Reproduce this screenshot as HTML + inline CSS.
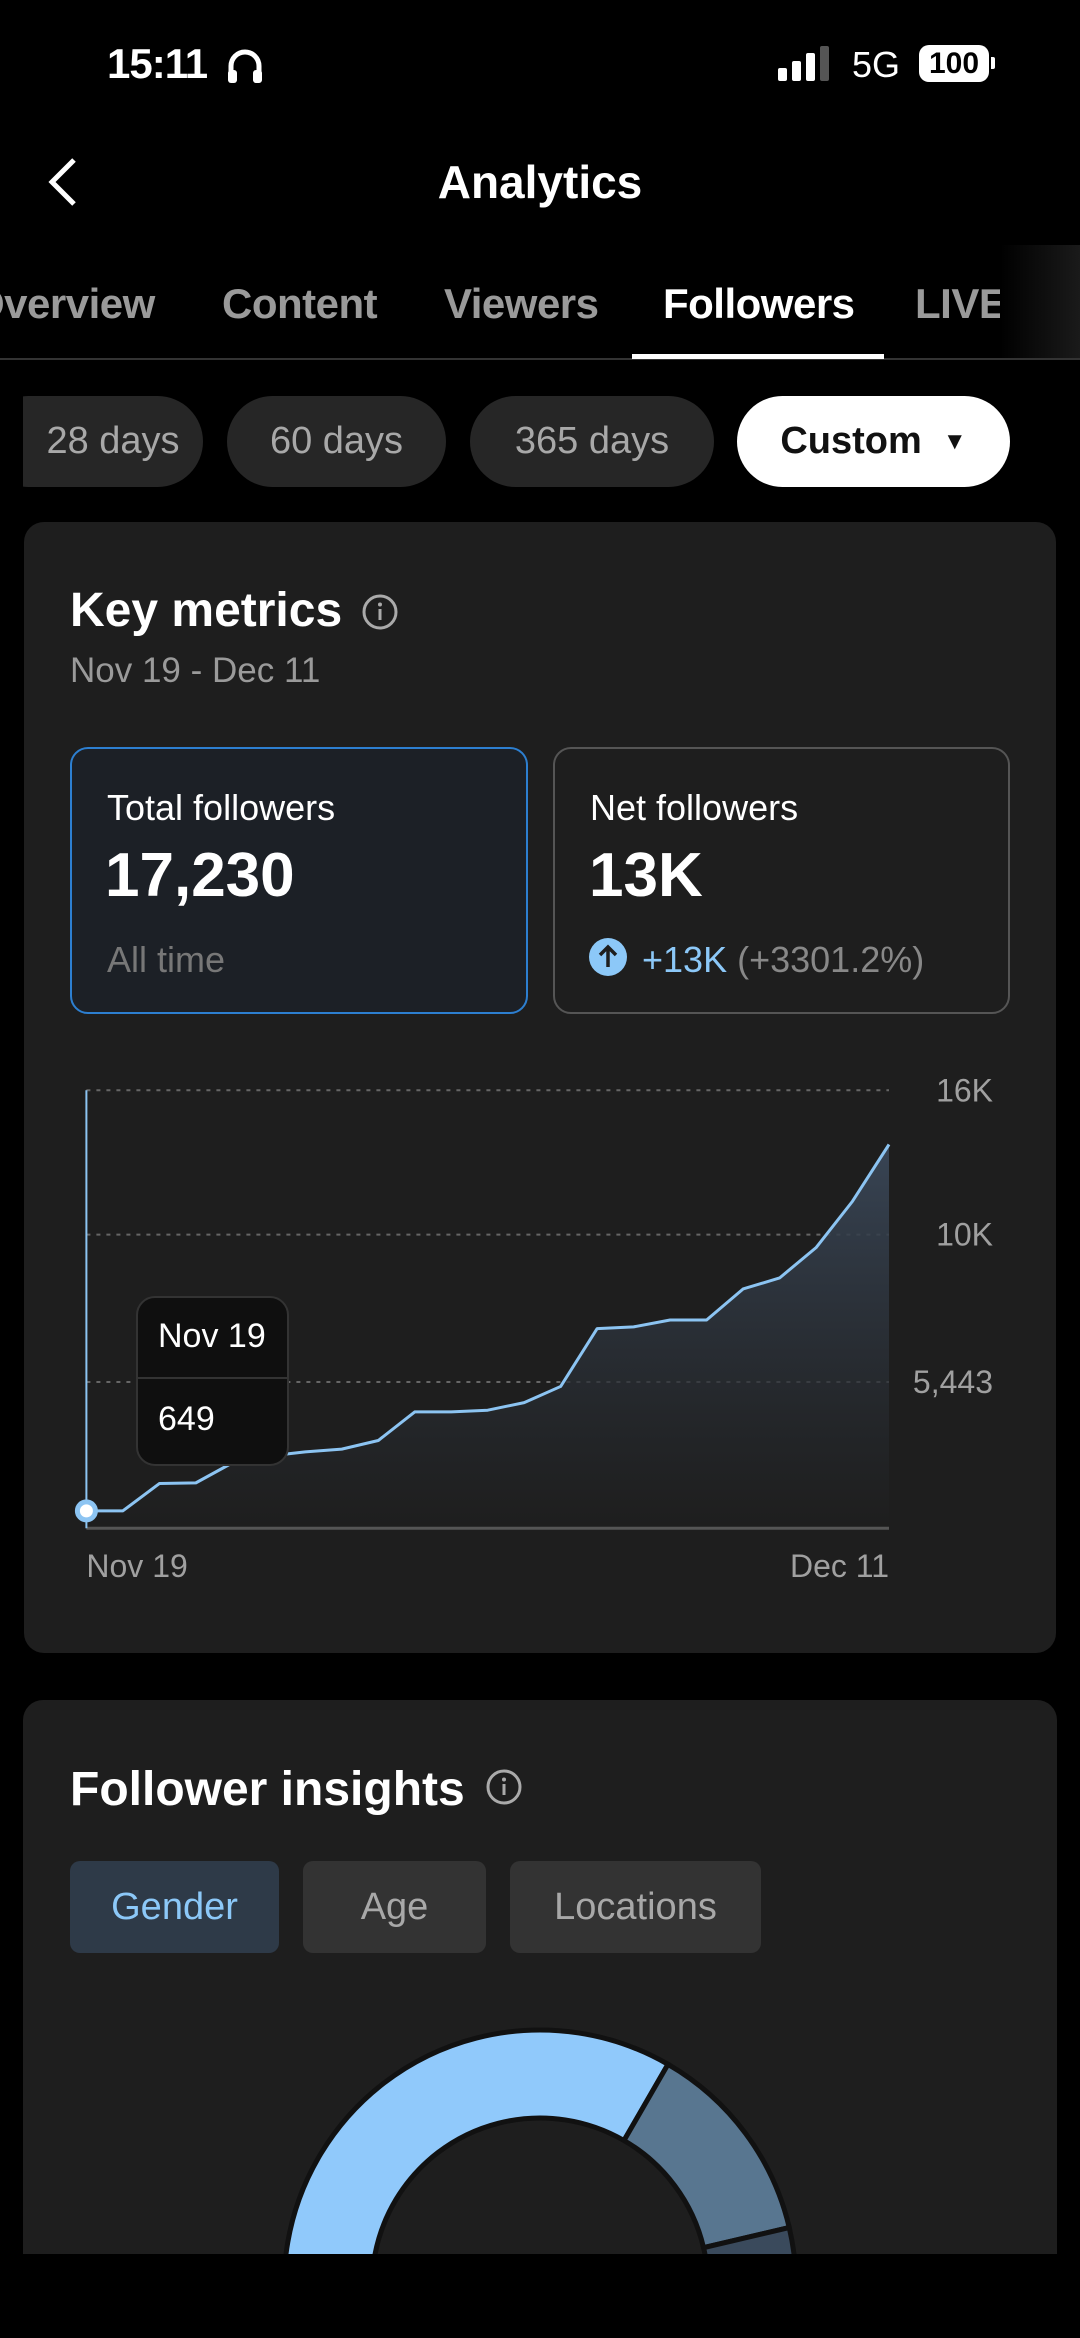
<!DOCTYPE html>
<html><head><meta charset="utf-8">
<style>
*{margin:0;padding:0;box-sizing:border-box}
html,body{width:1080px;height:2338px;overflow:hidden}
body{background:#000;font-family:"Liberation Sans",sans-serif;color:#fff;position:relative}
.a{position:absolute;white-space:nowrap}
.card{position:absolute;background:#1e1e1e;border-radius:20px}
.chip{position:absolute;top:396px;height:91px;border-radius:46px;background:#262626;color:#a8a8a8;font-size:38px;display:flex;align-items:center;justify-content:center}
.tab{position:absolute;top:280px;font-size:42px;color:#9a9a9a;font-weight:bold;letter-spacing:-0.5px}
.seg{position:absolute;top:1861px;height:92px;border-radius:10px;background:#333;color:#a8a8a8;font-size:38px;display:flex;align-items:center;justify-content:center}
.box{position:absolute;top:747px;height:267px;border-radius:18px}
</style></head><body>
<!-- status bar -->
<div class="a" style="left:107px;top:40px;font-size:42px;font-weight:bold;letter-spacing:-1px">15:11</div>
<svg class="a" style="left:226px;top:48px" width="38" height="36" viewBox="0 0 38 36"><path d="M5 30 V18 A14 14 0 0 1 33 18 V30" fill="none" stroke="#fff" stroke-width="5"/><rect x="2" y="22" width="9" height="13" rx="3" fill="#fff"/><rect x="27" y="22" width="9" height="13" rx="3" fill="#fff"/></svg>
<svg class="a" style="left:778px;top:46px" width="54" height="36"><rect x="0" y="22" width="9" height="13" rx="2" fill="#fff"/><rect x="14" y="15" width="9" height="20" rx="2" fill="#fff"/><rect x="28" y="7" width="9" height="28" rx="2" fill="#fff"/><rect x="42" y="0" width="9" height="35" rx="2" fill="#555"/></svg>
<div class="a" style="left:852px;top:44px;font-size:36px">5G</div>
<div class="a" style="left:919px;top:45px;width:70px;height:37px;background:#fff;border-radius:10px;color:#000;font-weight:bold;font-size:30px;text-align:center;line-height:37px">100</div>
<div class="a" style="left:991px;top:57px;width:4px;height:12px;background:#fff;border-radius:0 2px 2px 0"></div>
<!-- header -->
<svg class="a" style="left:44px;top:156px" width="40" height="52"><path d="M30 4 L8 26 L30 48" fill="none" stroke="#fff" stroke-width="5"/></svg>
<div class="a" style="left:0;width:1080px;text-align:center;top:155px;font-size:46px;font-weight:bold">Analytics</div>
<!-- tabs -->
<div class="tab" style="left:-28px">Overview</div>
<div class="tab" style="left:222px">Content</div>
<div class="tab" style="left:444px">Viewers</div>
<div class="tab" style="left:663px;color:#fff">Followers</div>
<div class="tab" style="left:915px">LIVE</div>
<div class="a" style="left:1000px;top:245px;width:80px;height:113px;background:linear-gradient(90deg,#000,#1a1a1a)"></div>
<div class="a" style="left:0;top:358px;width:1080px;height:2px;background:#333"></div>
<div class="a" style="left:632px;top:354px;width:252px;height:5px;background:#fff"></div>
<!-- chips -->
<div style="position:absolute;left:23px;top:0;width:1057px;height:500px;overflow:hidden">
<div class="chip" style="left:-40px;width:220px;padding-left:40px">28 days</div></div>
<div class="chip" style="left:227px;width:219px">60 days</div>
<div class="chip" style="left:470px;width:244px">365 days</div>
<div class="chip" style="left:737px;width:273px;background:#fff;color:#111;font-weight:bold">Custom&nbsp;&nbsp;<span style="font-size:24px">▼</span></div>
<!-- card 1 -->
<div class="card" style="left:24px;top:522px;width:1032px;height:1131px"></div>
<div class="a" style="left:70px;top:583px;font-size:48px;font-weight:bold">Key metrics</div>
<svg class="a" style="left:361px;top:593px" width="38" height="38"><circle cx="19" cy="19" r="16" fill="none" stroke="#aaa" stroke-width="3"/><rect x="17.5" y="16" width="3" height="11" fill="#aaa"/><circle cx="19" cy="11.5" r="2" fill="#aaa"/></svg>
<div class="a" style="left:70px;top:651px;font-size:35px;color:#9a9a9a">Nov 19 - Dec 11</div>
<div class="box" style="left:70px;width:458px;background:#1c2026;border:2px solid #2d7fd0"></div>
<div class="a" style="left:107px;top:787px;font-size:36px">Total followers</div>
<div class="a" style="left:105px;top:840px;font-size:62px;font-weight:bold">17,230</div>
<div class="a" style="left:107px;top:939px;font-size:36px;color:#777">All time</div>
<div class="box" style="left:553px;width:457px;border:2px solid #555"></div>
<div class="a" style="left:590px;top:787px;font-size:36px">Net followers</div>
<div class="a" style="left:589px;top:840px;font-size:62px;font-weight:bold">13K</div>
<svg class="a" style="left:588px;top:937px" width="40" height="40"><circle cx="20" cy="20" r="19" fill="#8cc8f8"/><path d="M20 30 V11 M12 18 L20 10 L28 18" fill="none" stroke="#1e1e1e" stroke-width="3.5"/></svg>
<div class="a" style="left:642px;top:939px;font-size:36px;color:#8cc8f8">+13K <span style="color:#888">(+3301.2%)</span></div>
<!-- chart -->
<svg class="a" id="chart" style="left:0;top:1060px" width="1080" height="540"></svg>
<!-- card 2 -->
<div class="card" style="left:23px;top:1700px;width:1034px;height:554px;border-radius:20px 20px 0 0"></div>
<div class="a" style="left:70px;top:1762px;font-size:48px;font-weight:bold">Follower insights</div>
<svg class="a" style="left:485px;top:1768px" width="38" height="38"><circle cx="19" cy="19" r="16" fill="none" stroke="#aaa" stroke-width="3"/><rect x="17.5" y="16" width="3" height="11" fill="#aaa"/><circle cx="19" cy="11.5" r="2" fill="#aaa"/></svg>
<div class="seg" style="left:70px;width:209px;background:#2e3a48;color:#8cc8f8">Gender</div>
<div class="seg" style="left:303px;width:183px">Age</div>
<div class="seg" style="left:510px;width:251px">Locations</div>
<svg class="a" id="donut" style="left:0;top:1990px" width="1080" height="264"></svg>
<div class="a" style="left:0;top:2254px;width:1080px;height:84px;background:#000"></div>
<script>
const dates=["Nov 19","Nov 20","Nov 21","Nov 22","Nov 23","Nov 24","Nov 25","Nov 26","Nov 27","Nov 28","Nov 29","Nov 30","Dec 1","Dec 2","Dec 3","Dec 4","Dec 5","Dec 6","Dec 7","Dec 8","Dec 9","Dec 10","Dec 11"];
const followers=[649,649,1665,1690,2434,2690,2844,2946,3266,4330,4330,4394,4676,5278,7094,7147,7360,7360,8319,8659,9597,11387,13747];
const tickValues=[0,5443,10000,16000];
const tickLabels=["","5,443","10K","16K"];
const genderLabels=["Female","Male","Other"];
const genderShares=[74,13,13];
const NS="http://www.w3.org/2000/svg";
const svg=document.getElementById('chart');
const OY=1060, X0=86.4, X1=889, YB=1528.3-OY;
const tickPx=[1528.3,1382,1234.6,1090.3].map(v=>v-OY);
function xs(i){return X0+(X1-X0)*i/(dates.length-1);}
function ys(v){for(let k=1;k<tickValues.length;k++){if(v<=tickValues[k]||k===tickValues.length-1){const t=(v-tickValues[k-1])/(tickValues[k]-tickValues[k-1]);return tickPx[k-1]+t*(tickPx[k]-tickPx[k-1]);}}}
function mk(tag,attrs){const e=document.createElementNS(NS,tag);for(const k in attrs)e.setAttribute(k,attrs[k]);svg.appendChild(e);return e;}
const defs=mk('defs',{});
defs.innerHTML='<linearGradient id="ag" x1="0" y1="0" x2="0" y2="1"><stop offset="0" stop-color="#3a4758" stop-opacity="0.95"/><stop offset="1" stop-color="#1e1e1e" stop-opacity="0.6"/></linearGradient>';
for(let k=1;k<tickValues.length;k++){
  const g=mk('line',{x1:X0,x2:X1,y1:ys(tickValues[k]),y2:ys(tickValues[k]),stroke:'#666','stroke-width':2,'stroke-dasharray':'4 6'});
  
  
  const t=mk('text',{x:993,y:ys(tickValues[k])+11,'text-anchor':'end','font-size':32,fill:'#a0a0a0','font-family':'Liberation Sans'});
  t.textContent=tickLabels[k];
  
  
}
let pts=followers.map((v,i)=>xs(i)+','+ys(v));
const area=mk('path',{d:'M'+pts.join(' L')+' L'+X1+','+YB+' L'+X0+','+YB+' Z',fill:'url(#ag)'});


const base=mk('line',{x1:X0,x2:X1,y1:YB,y2:YB,stroke:'#555','stroke-width':3});


const line=mk('polyline',{points:pts.join(' '),fill:'none',stroke:'#8cc4f2','stroke-width':3,'stroke-linejoin':'round'});


const cur=mk('line',{x1:xs(0),x2:xs(0),y1:tickPx[3],y2:YB,stroke:'#8cc4f2','stroke-width':2});


const dot=mk('circle',{cx:xs(0),cy:ys(followers[0]),r:9,fill:'#fff',stroke:'#8cc4f2','stroke-width':5});


const tip=mk('rect',{x:137,y:1297-OY,width:151,height:168,rx:18,fill:'#0f0f0f',stroke:'#333','stroke-width':2});


const tl=mk('line',{x1:138,x2:287,y1:1378-OY,y2:1378-OY,stroke:'#333','stroke-width':2});


const t1=mk('text',{x:158,y:1347-OY,'font-size':34,fill:'#fff','font-family':'Liberation Sans'});t1.textContent=dates[0];


const t2=mk('text',{x:158,y:1430-OY,'font-size':34,fill:'#fff','font-family':'Liberation Sans'});t2.textContent=followers[0].toLocaleString('en-US');


const xl1=mk('text',{x:X0,y:1577-OY,'font-size':32,fill:'#a0a0a0','font-family':'Liberation Sans'});xl1.textContent=dates[0];


const xl2=mk('text',{x:X1,y:1577-OY,'text-anchor':'end','font-size':32,fill:'#a0a0a0','font-family':'Liberation Sans'});xl2.textContent=dates[dates.length-1];


// donut
const dsvg=document.getElementById('donut');
const CX=540,CY=2286-1990,R=256,r=168;
const colors=['#90c9fb','#587690','#3a4a5c'];
const total=genderShares.reduce((a,b)=>a+b,0);
let ang=30-genderShares[0]/total*360;
function pt(a,rad){const t=(a-90)*Math.PI/180;return [CX+rad*Math.cos(t),CY+rad*Math.sin(t)];}
genderShares.forEach((s,i)=>{
  const a0=ang,a1=ang+s/total*360;ang=a1;
  const large=(a1-a0)>180?1:0;
  const p0=pt(a0,R),p1=pt(a1,R),q1=pt(a1,r),q0=pt(a0,r);
  const p=document.createElementNS(NS,'path');
  p.setAttribute('d',`M${p0} A${R},${R} 0 ${large} 1 ${p1} L${q1} A${r},${r} 0 ${large} 0 ${q0} Z`);
  p.setAttribute('fill',colors[i]);p.setAttribute('stroke','#111');p.setAttribute('stroke-width','5');
  
  
  dsvg.appendChild(p);
});
</script>
</body></html>
